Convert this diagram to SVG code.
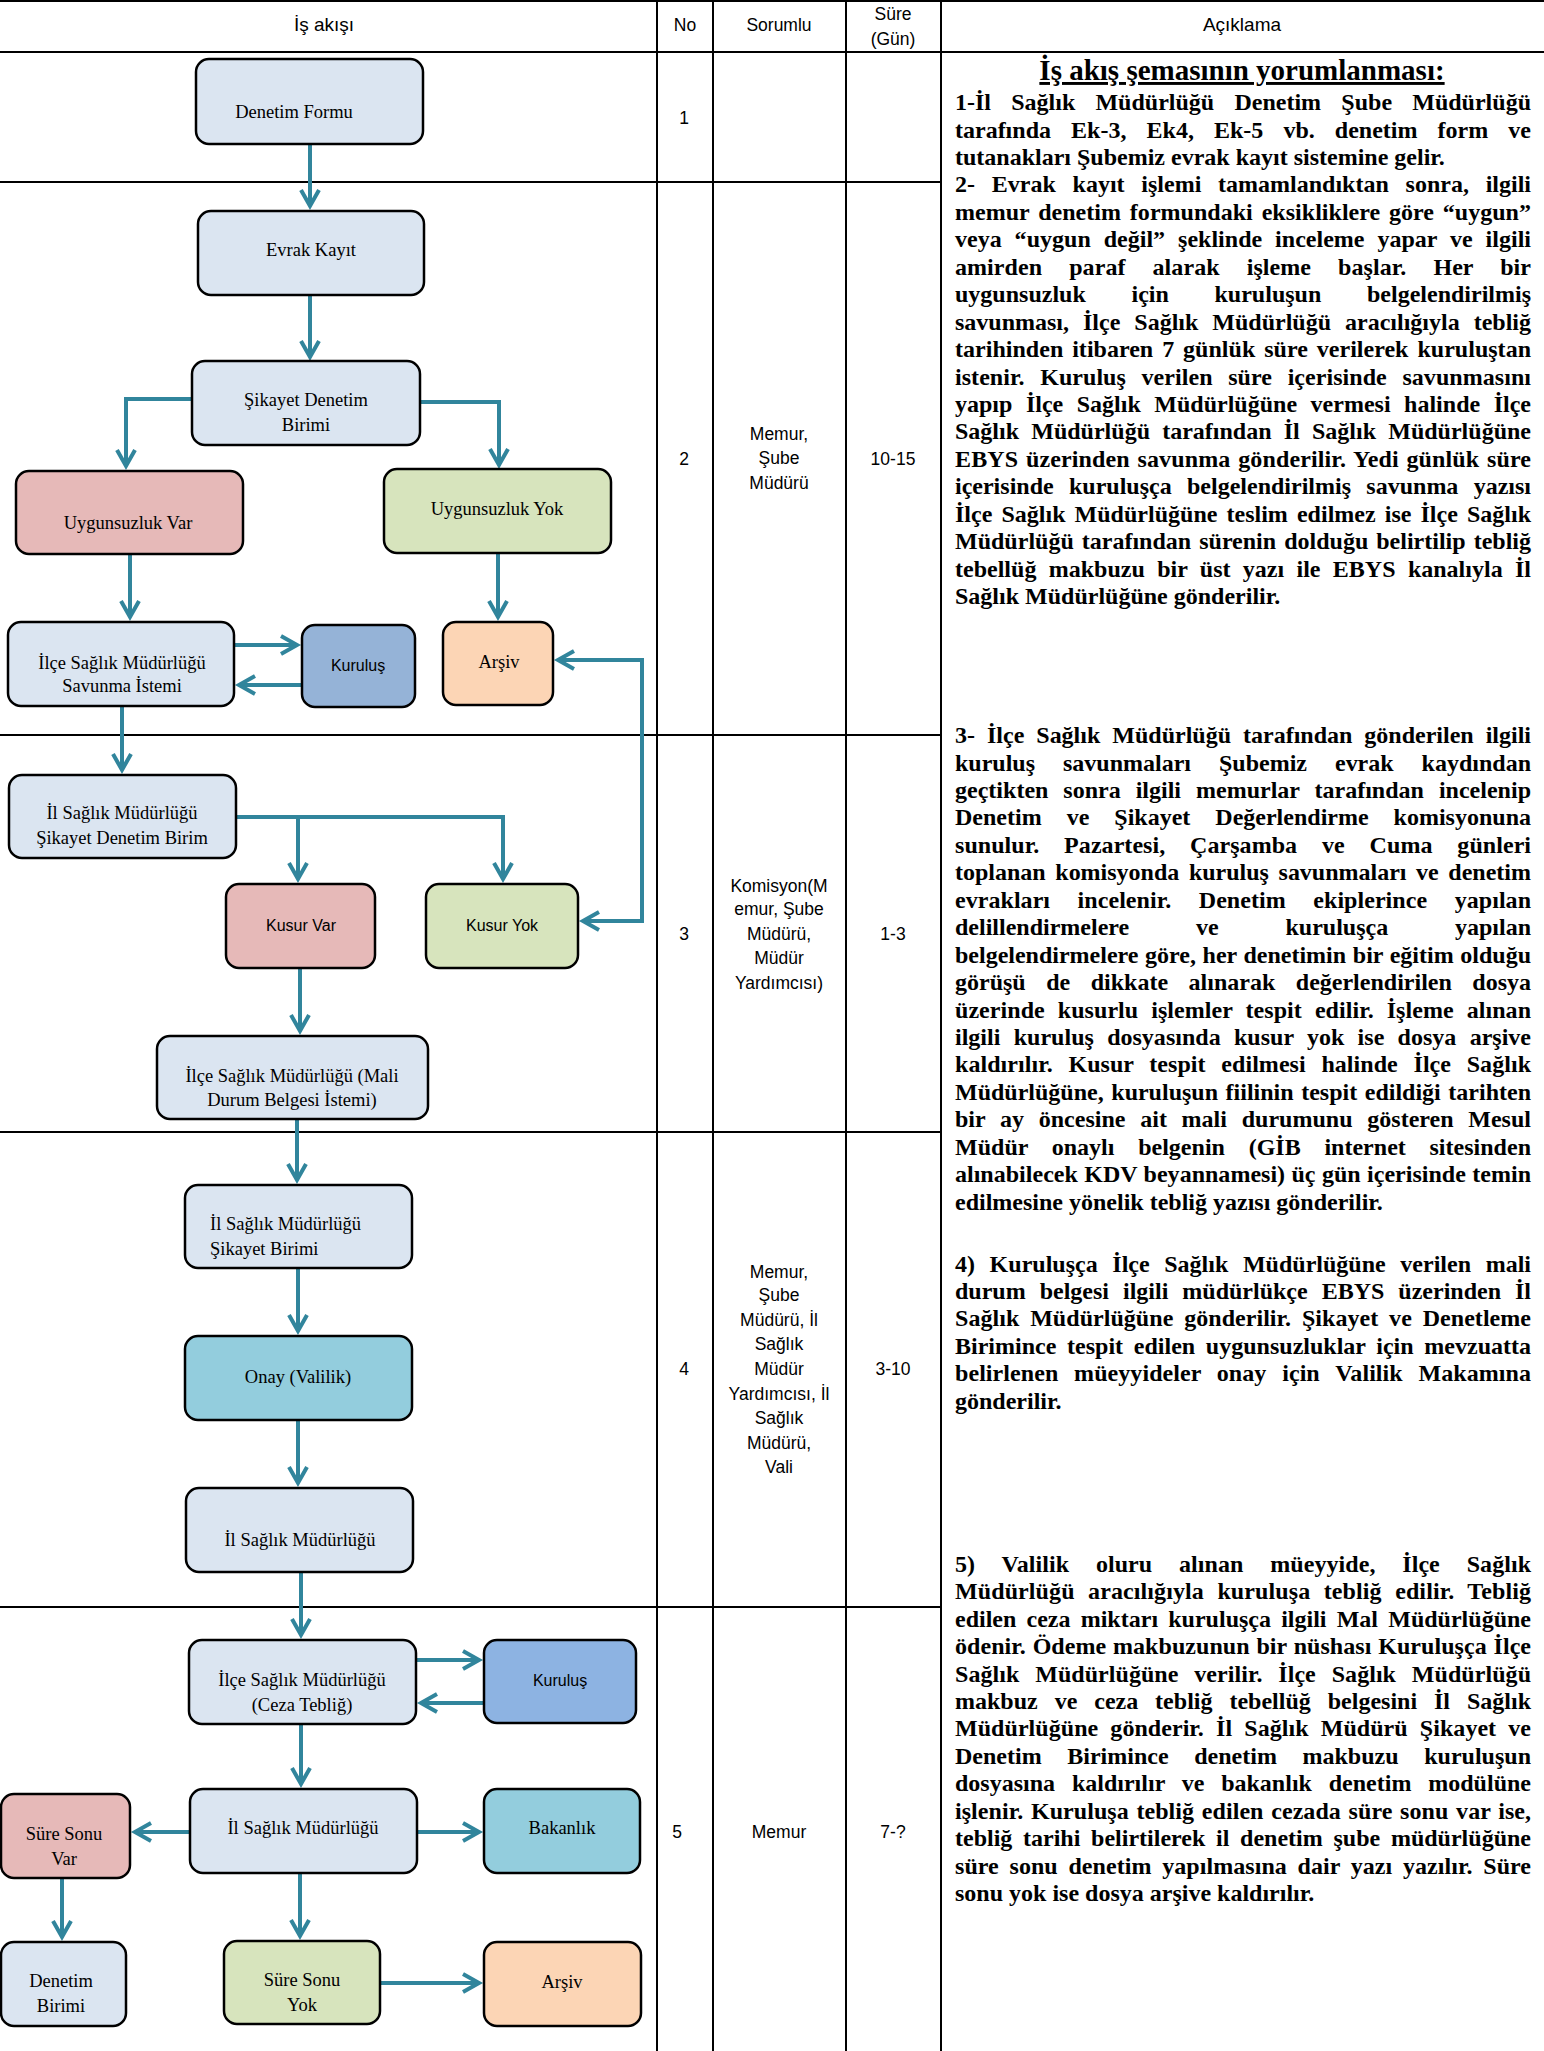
<svg xmlns="http://www.w3.org/2000/svg" width="1544" height="2051" viewBox="0 0 1544 2051">
<style>
.grid{stroke:#000;stroke-width:2;fill:none}
.box{stroke:#000;stroke-width:2.5}
.lb{fill:#dbe5f1}.pk{fill:#e6b9b8}.gr{fill:#d7e4bd}.pe{fill:#fcd5b5}.bl{fill:#95b3d7}.cy{fill:#93cddd}
.ns{font-family:"Liberation Serif","Times New Roman",serif;font-size:18.5px;fill:#000;text-anchor:middle}
.nsl{font-family:"Liberation Serif","Times New Roman",serif;font-size:18.5px;fill:#000}
.nf{font-family:"Liberation Sans",Arial,sans-serif;font-size:16px;fill:#000;text-anchor:middle}
.t{font-family:"Liberation Sans",Arial,sans-serif;font-size:17.5px;fill:#000;text-anchor:middle}
.h{font-family:"Liberation Sans",Arial,sans-serif;font-size:19px;fill:#000;text-anchor:middle}
.d{font-family:"Liberation Serif","Times New Roman",serif;font-size:24px;font-weight:bold;fill:#000}
.ttl{font-family:"Liberation Serif","Times New Roman",serif;font-size:29px;font-weight:bold;fill:#000;text-anchor:middle;text-decoration:underline}
.c{fill:none;stroke:#31859c;stroke-width:4}
</style>
<defs>
<marker id="ah" markerUnits="userSpaceOnUse" orient="auto-start-reverse" refX="0" refY="0" markerWidth="1" markerHeight="1" overflow="visible">
<path d="M-16,-9 L0,0 L-16,9" fill="none" stroke="#31859c" stroke-width="4"/>
</marker>
</defs>

<g id="table">
<line class="grid" x1="0" y1="1" x2="1544" y2="1"/>
<line class="grid" x1="0" y1="52" x2="1544" y2="52"/>
<line class="grid" x1="0" y1="182" x2="941" y2="182"/>
<line class="grid" x1="0" y1="735" x2="941" y2="735"/>
<line class="grid" x1="0" y1="1132" x2="941" y2="1132"/>
<line class="grid" x1="0" y1="1607" x2="941" y2="1607"/>
<line class="grid" x1="657" y1="0" x2="657" y2="2051"/>
<line class="grid" x1="713" y1="0" x2="713" y2="2051"/>
<line class="grid" x1="846" y1="0" x2="846" y2="2051"/>
<line class="grid" x1="941" y1="0" x2="941" y2="2051"/>
<text class="h" x="324" y="31">İş akışı</text>
<text class="t" x="685" y="31">No</text>
<text class="t" x="779" y="31">Sorumlu</text>
<text class="t" x="893" y="20">Süre</text>
<text class="t" x="893" y="45">(Gün)</text>
<text class="h" x="1242" y="31">Açıklama</text>
<text class="t" x="684" y="124">1</text>
<text class="t" x="684" y="465">2</text>
<text class="t" x="779" y="440">Memur,</text>
<text class="t" x="779" y="464">Şube</text>
<text class="t" x="779" y="489">Müdürü</text>
<text class="t" x="893" y="465">10-15</text>
<text class="t" x="684" y="940">3</text>
<text class="t" x="779" y="892">Komisyon(M</text>
<text class="t" x="779" y="915">emur, Şube</text>
<text class="t" x="779" y="940">Müdürü,</text>
<text class="t" x="779" y="964">Müdür</text>
<text class="t" x="779" y="989">Yardımcısı)</text>
<text class="t" x="893" y="940">1-3</text>
<text class="t" x="684" y="1375">4</text>
<text class="t" x="779" y="1278">Memur,</text>
<text class="t" x="779" y="1301">Şube</text>
<text class="t" x="779" y="1326">Müdürü, İl</text>
<text class="t" x="779" y="1350">Sağlık</text>
<text class="t" x="779" y="1375">Müdür</text>
<text class="t" x="779" y="1400">Yardımcısı, İl</text>
<text class="t" x="779" y="1424">Sağlık</text>
<text class="t" x="779" y="1449">Müdürü,</text>
<text class="t" x="779" y="1473">Vali</text>
<text class="t" x="893" y="1375">3-10</text>
<text class="t" x="677" y="1838">5</text>
<text class="t" x="779" y="1838">Memur</text>
<text class="t" x="893" y="1838">7-?</text>
</g>

<g id="connectors">
<path class="c" d="M310,144 V206" marker-end="url(#ah)"/>
<path class="c" d="M310,295 V357" marker-end="url(#ah)"/>
<path class="c" d="M192,399 H126 V466" marker-end="url(#ah)"/>
<path class="c" d="M420,402 H499 V465" marker-end="url(#ah)"/>
<path class="c" d="M130,554 V617" marker-end="url(#ah)"/>
<path class="c" d="M498,553 V617" marker-end="url(#ah)"/>
<path class="c" d="M234,645 H297" marker-end="url(#ah)"/>
<path class="c" d="M302,685 H239" marker-end="url(#ah)"/>
<path class="c" d="M122,706 V770" marker-end="url(#ah)"/>
<path class="c" d="M236,817 H503 V879" marker-end="url(#ah)"/>
<path class="c" d="M298,817 V879" marker-end="url(#ah)"/>
<path class="c" d="M583,921 H642 V660 H558" marker-start="url(#ah)" marker-end="url(#ah)"/>
<path class="c" d="M300,968 V1031" marker-end="url(#ah)"/>
<path class="c" d="M297,1119 V1180" marker-end="url(#ah)"/>
<path class="c" d="M298,1268 V1331" marker-end="url(#ah)"/>
<path class="c" d="M298,1420 V1483" marker-end="url(#ah)"/>
<path class="c" d="M301,1572 V1635" marker-end="url(#ah)"/>
<path class="c" d="M416,1660 H479" marker-end="url(#ah)"/>
<path class="c" d="M484,1703 H421" marker-end="url(#ah)"/>
<path class="c" d="M301,1724 V1784" marker-end="url(#ah)"/>
<path class="c" d="M190,1832 H135" marker-end="url(#ah)"/>
<path class="c" d="M417,1832 H479" marker-end="url(#ah)"/>
<path class="c" d="M300,1873 V1936" marker-end="url(#ah)"/>
<path class="c" d="M62,1878 V1937" marker-end="url(#ah)"/>
<path class="c" d="M380,1983 H479" marker-end="url(#ah)"/>
</g>

<g id="n1"><rect class="box lb" x="196" y="59" width="227" height="85" rx="13"/><text class="ns" x="294" y="118">Denetim Formu</text></g>
<g id="n2"><rect class="box lb" x="198" y="211" width="226" height="84" rx="13"/><text class="ns" x="311" y="256">Evrak Kayıt</text></g>
<g id="n3"><rect class="box lb" x="192" y="361" width="228" height="84" rx="13"/><text class="ns" x="306" y="406">Şikayet Denetim</text><text class="ns" x="306" y="431">Birimi</text></g>
<g id="n4"><rect class="box pk" x="16" y="471" width="227" height="83" rx="13"/><text class="ns" x="128" y="529">Uygunsuzluk Var</text></g>
<g id="n5"><rect class="box gr" x="384" y="469" width="227" height="84" rx="13"/><text class="ns" x="497" y="515">Uygunsuzluk Yok</text></g>
<g id="n6"><rect class="box lb" x="8" y="622" width="226" height="84" rx="13"/><text class="ns" x="122" y="669">İlçe Sağlık Müdürlüğü</text><text class="ns" x="122" y="692">Savunma İstemi</text></g>
<g id="n7"><rect class="box bl" x="302" y="625" width="113" height="82" rx="13"/><text class="nf" x="358" y="671">Kuruluş</text></g>
<g id="n8"><rect class="box pe" x="443" y="622" width="110" height="83" rx="13"/><text class="ns" x="499" y="668">Arşiv</text></g>
<g id="n9"><rect class="box lb" x="9" y="775" width="227" height="83" rx="13"/><text class="ns" x="122" y="819">İl Sağlık Müdürlüğü</text><text class="ns" x="122" y="844">Şikayet Denetim Birim</text></g>
<g id="n10"><rect class="box pk" x="226" y="884" width="149" height="84" rx="13"/><text class="nf" x="301" y="931">Kusur Var</text></g>
<g id="n11"><rect class="box gr" x="426" y="884" width="152" height="84" rx="13"/><text class="nf" x="502" y="931">Kusur Yok</text></g>
<g id="n12"><rect class="box lb" x="157" y="1036" width="271" height="83" rx="13"/><text class="ns" x="292" y="1082">İlçe Sağlık Müdürlüğü (Mali</text><text class="ns" x="292" y="1106">Durum Belgesi İstemi)</text></g>
<g id="n13"><rect class="box lb" x="185" y="1185" width="227" height="83" rx="13"/><text class="nsl" x="210" y="1230">İl Sağlık Müdürlüğü</text><text class="nsl" x="210" y="1255">Şikayet Birimi</text></g>
<g id="n14"><rect class="box cy" x="185" y="1336" width="227" height="84" rx="13"/><text class="ns" x="298" y="1383">Onay (Valilik)</text></g>
<g id="n15"><rect class="box lb" x="186" y="1488" width="227" height="84" rx="13"/><text class="ns" x="300" y="1546">İl Sağlık Müdürlüğü</text></g>
<g id="n16"><rect class="box lb" x="189" y="1640" width="227" height="84" rx="13"/><text class="ns" x="302" y="1686">İlçe Sağlık Müdürlüğü</text><text class="ns" x="302" y="1711">(Ceza Tebliğ)</text></g>
<g id="n17"><rect class="box" fill="#8db3e2" x="484" y="1640" width="152" height="83" rx="13"/><text class="nf" x="560" y="1686">Kuruluş</text></g>
<g id="n18"><rect class="box lb" x="190" y="1789" width="227" height="84" rx="13"/><text class="ns" x="303" y="1834">İl Sağlık Müdürlüğü</text></g>
<g id="n19"><rect class="box pk" x="1" y="1794" width="129" height="84" rx="13"/><text class="ns" x="64" y="1840">Süre Sonu</text><text class="ns" x="64" y="1865">Var</text></g>
<g id="n20"><rect class="box cy" x="484" y="1789" width="156" height="84" rx="13"/><text class="ns" x="562" y="1834">Bakanlık</text></g>
<g id="n21"><rect class="box gr" x="224" y="1941" width="156" height="83" rx="13"/><text class="ns" x="302" y="1986">Süre Sonu</text><text class="ns" x="302" y="2011">Yok</text></g>
<g id="n22"><rect class="box lb" x="1" y="1942" width="125" height="84" rx="13"/><text class="ns" x="61" y="1987">Denetim</text><text class="ns" x="61" y="2012">Birimi</text></g>
<g id="n23"><rect class="box pe" x="484" y="1942" width="157" height="84" rx="13"/><text class="ns" x="562" y="1988">Arşiv</text></g>

<g id="description">
<text class="ttl" x="1242" y="80">İş akış şemasının yorumlanması:</text>
<text class="d" x="955" y="110" textLength="576" lengthAdjust="spacing" word-spacing="14.2">1-İl Sağlık Müdürlüğü Denetim Şube Müdürlüğü</text>
<text class="d" x="955" y="137.5" textLength="576" lengthAdjust="spacing" word-spacing="14.1">tarafında Ek-3, Ek4, Ek-5 vb. denetim form ve</text>
<text class="d" x="955" y="164.9">tutanakları Şubemiz evrak kayıt sistemine gelir.</text>
<text class="d" x="955" y="192.4" textLength="576" lengthAdjust="spacing" word-spacing="10.8">2- Evrak kayıt işlemi tamamlandıktan sonra, ilgili</text>
<text class="d" x="955" y="219.8" textLength="576" lengthAdjust="spacing" word-spacing="2.8">memur denetim formundaki eksikliklere göre “uygun”</text>
<text class="d" x="955" y="247.3" textLength="576" lengthAdjust="spacing" word-spacing="6.9">veya “uygun değil” şeklinde inceleme yapar ve ilgili</text>
<text class="d" x="955" y="274.7" textLength="576" lengthAdjust="spacing" word-spacing="21">amirden paraf alarak işleme başlar. Her bir</text>
<text class="d" x="955" y="302.2" textLength="576" lengthAdjust="spacing" word-spacing="39.7">uygunsuzluk için kuruluşun belgelendirilmiş</text>
<text class="d" x="955" y="329.6" textLength="576" lengthAdjust="spacing" word-spacing="8">savunması, İlçe Sağlık Müdürlüğü aracılığıyla tebliğ</text>
<text class="d" x="955" y="357.1" textLength="576" lengthAdjust="spacing" word-spacing="2.9">tarihinden itibaren 7 günlük süre verilerek kuruluştan</text>
<text class="d" x="955" y="384.5" textLength="576" lengthAdjust="spacing" word-spacing="9.6">istenir. Kuruluş verilen süre içerisinde savunmasını</text>
<text class="d" x="955" y="412" textLength="576" lengthAdjust="spacing" word-spacing="7.5">yapıp İlçe Sağlık Müdürlüğüne vermesi halinde İlçe</text>
<text class="d" x="955" y="439.4" textLength="576" lengthAdjust="spacing" word-spacing="6.2">Sağlık Müdürlüğü tarafından İl Sağlık Müdürlüğüne</text>
<text class="d" x="955" y="466.9" textLength="576" lengthAdjust="spacing" word-spacing="1.6">EBYS üzerinden savunma gönderilir. Yedi günlük süre</text>
<text class="d" x="955" y="494.3" textLength="576" lengthAdjust="spacing" word-spacing="9.3">içerisinde kuruluşça belgelendirilmiş savunma yazısı</text>
<text class="d" x="955" y="521.8" textLength="576" lengthAdjust="spacing" word-spacing="3.1">İlçe Sağlık Müdürlüğüne teslim edilmez ise İlçe Sağlık</text>
<text class="d" x="955" y="549.2" textLength="576" lengthAdjust="spacing" word-spacing="2">Müdürlüğü tarafından sürenin dolduğu belirtilip tebliğ</text>
<text class="d" x="955" y="576.7" textLength="576" lengthAdjust="spacing" word-spacing="6.3">tebellüğ makbuzu bir üst yazı ile EBYS kanalıyla İl</text>
<text class="d" x="955" y="604.1">Sağlık Müdürlüğüne gönderilir.</text>

<text class="d" x="955" y="743" textLength="576" lengthAdjust="spacing" word-spacing="6">3- İlçe Sağlık Müdürlüğü tarafından gönderilen ilgili</text>
<text class="d" x="955" y="770.5" textLength="576" lengthAdjust="spacing" word-spacing="22">kuruluş savunmaları Şubemiz evrak kaydından</text>
<text class="d" x="955" y="797.9" textLength="576" lengthAdjust="spacing" word-spacing="8.9">geçtikten sonra ilgili memurlar tarafından incelenip</text>
<text class="d" x="955" y="825.4" textLength="576" lengthAdjust="spacing" word-spacing="19">Denetim ve Şikayet Değerlendirme komisyonuna</text>
<text class="d" x="955" y="852.8" textLength="576" lengthAdjust="spacing" word-spacing="18.8">sunulur. Pazartesi, Çarşamba ve Cuma günleri</text>
<text class="d" x="955" y="880.3" textLength="576" lengthAdjust="spacing" word-spacing="3.6">toplanan komisyonda kuruluş savunmaları ve denetim</text>
<text class="d" x="955" y="907.7" textLength="576" lengthAdjust="spacing" word-spacing="21.5">evrakları incelenir. Denetim ekiplerince yapılan</text>
<text class="d" x="955" y="935.2" textLength="576" lengthAdjust="spacing" word-spacing="60.8">delillendirmelere ve kuruluşça yapılan</text>
<text class="d" x="955" y="962.6" textLength="576" lengthAdjust="spacing" word-spacing="0.7">belgelendirmelere göre, her denetimin bir eğitim olduğu</text>
<text class="d" x="955" y="990.1" textLength="576" lengthAdjust="spacing" word-spacing="14.5">görüşü de dikkate alınarak değerlendirilen dosya</text>
<text class="d" x="955" y="1017.5" textLength="576" lengthAdjust="spacing" word-spacing="7">üzerinde kusurlu işlemler tespit edilir. İşleme alınan</text>
<text class="d" x="955" y="1045" textLength="576" lengthAdjust="spacing" word-spacing="7.3">ilgili kuruluş dosyasında kusur yok ise dosya arşive</text>
<text class="d" x="955" y="1072.4" textLength="576" lengthAdjust="spacing" word-spacing="9.6">kaldırılır. Kusur tespit edilmesi halinde İlçe Sağlık</text>
<text class="d" x="955" y="1099.9" textLength="576" lengthAdjust="spacing" word-spacing="1.6">Müdürlüğüne, kuruluşun fiilinin tespit edildiği tarihten</text>
<text class="d" x="955" y="1127.3" textLength="576" lengthAdjust="spacing" word-spacing="8.7">bir ay öncesine ait mali durumunu gösteren Mesul</text>
<text class="d" x="955" y="1154.8" textLength="576" lengthAdjust="spacing" word-spacing="17.7">Müdür onaylı belgenin (GİB internet sitesinden</text>
<text class="d" x="955" y="1182.2" textLength="576" lengthAdjust="spacing" word-spacing="0.4">alınabilecek KDV beyannamesi) üç gün içerisinde temin</text>
<text class="d" x="955" y="1209.7">edilmesine yönelik tebliğ yazısı gönderilir.</text>

<text class="d" x="955" y="1271.5" textLength="576" lengthAdjust="spacing" word-spacing="8.6">4) Kuruluşça İlçe Sağlık Müdürlüğüne verilen mali</text>
<text class="d" x="955" y="1299" textLength="576" lengthAdjust="spacing" word-spacing="8">durum belgesi ilgili müdürlükçe EBYS üzerinden İl</text>
<text class="d" x="955" y="1326.4" textLength="576" lengthAdjust="spacing" word-spacing="4.8">Sağlık Müdürlüğüne gönderilir. Şikayet ve Denetleme</text>
<text class="d" x="955" y="1353.9" textLength="576" lengthAdjust="spacing" word-spacing="4.7">Birimince tespit edilen uygunsuzluklar için mevzuatta</text>
<text class="d" x="955" y="1381.3" textLength="576" lengthAdjust="spacing" word-spacing="9.7">belirlenen müeyyideler onay için Valilik Makamına</text>
<text class="d" x="955" y="1408.8">gönderilir.</text>

<text class="d" x="955" y="1571.7" textLength="576" lengthAdjust="spacing" word-spacing="20.8">5) Valilik oluru alınan müeyyide, İlçe Sağlık</text>
<text class="d" x="955" y="1599.2" textLength="576" lengthAdjust="spacing" word-spacing="7.4">Müdürlüğü aracılığıyla kuruluşa tebliğ edilir. Tebliğ</text>
<text class="d" x="955" y="1626.6" textLength="576" lengthAdjust="spacing" word-spacing="4.2">edilen ceza miktarı  kuruluşça ilgili Mal Müdürlüğüne</text>
<text class="d" x="955" y="1654.1" textLength="576" lengthAdjust="spacing" word-spacing="0.8">ödenir. Ödeme makbuzunun bir nüshası Kuruluşça İlçe</text>
<text class="d" x="955" y="1681.5" textLength="576" lengthAdjust="spacing" word-spacing="9.8">Sağlık Müdürlüğüne verilir. İlçe Sağlık Müdürlüğü</text>
<text class="d" x="955" y="1709" textLength="576" lengthAdjust="spacing" word-spacing="10.9">makbuz ve ceza tebliğ tebellüğ belgesini İl Sağlık</text>
<text class="d" x="955" y="1736.4" textLength="576" lengthAdjust="spacing" word-spacing="6.1">Müdürlüğüne gönderir. İl Sağlık Müdürü Şikayet ve</text>
<text class="d" x="955" y="1763.9" textLength="576" lengthAdjust="spacing" word-spacing="19.6">Denetim Birimince denetim makbuzu kuruluşun</text>
<text class="d" x="955" y="1791.3" textLength="576" lengthAdjust="spacing" word-spacing="10.8">dosyasına kaldırılır ve bakanlık denetim modülüne</text>
<text class="d" x="955" y="1818.8" textLength="576" lengthAdjust="spacing" word-spacing="1.7">işlenir. Kuruluşa tebliğ edilen cezada süre sonu var ise,</text>
<text class="d" x="955" y="1846.2" textLength="576" lengthAdjust="spacing" word-spacing="4.7">tebliğ tarihi belirtilerek il denetim şube müdürlüğüne</text>
<text class="d" x="955" y="1873.7" textLength="576" lengthAdjust="spacing" word-spacing="4.6">süre sonu denetim yapılmasına dair yazı yazılır. Süre</text>
<text class="d" x="955" y="1901.1">sonu yok ise dosya arşive kaldırılır.</text>
</g>
</svg>
